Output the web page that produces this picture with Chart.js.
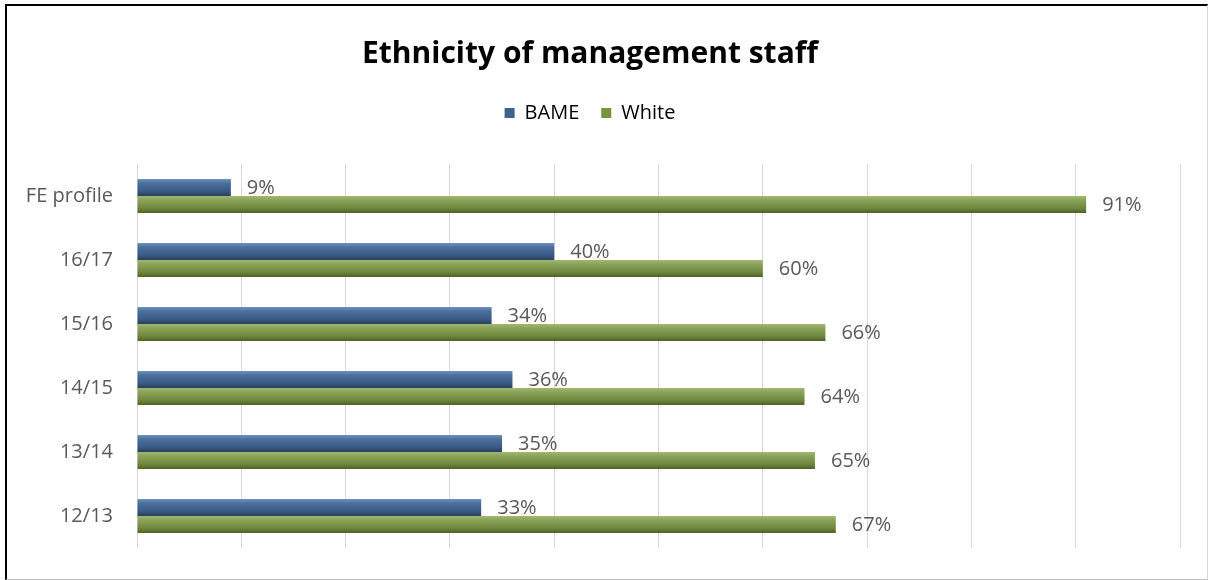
<!DOCTYPE html>
<html>
<head>
<meta charset="utf-8">
<script src="https://cdn.jsdelivr.net/npm/chart.js@4"></script>
<style>
    body { margin: 0; background: #fff; }
    #frame {
        position: absolute; left: 5px; top: 4px; width: 1200px; height: 573px;
        border-top: 2px solid #000; border-left: 2px solid #000;
        border-right: 1px solid #d9d9d9; border-bottom: 1px solid #bfbfbf;
    }
    #wrap { position: absolute; left: 0; top: 0; width: 1208px; height: 580px; }
</style>
</head>
<body>
<div id="frame"></div>
<div id="wrap"><canvas id="ethnicity-chart"></canvas></div>
<script>
const categories = ['FE profile', '16/17', '15/16', '14/15', '13/14', '12/13'];
const bameValues = [9, 40, 34, 36, 35, 33];
const whiteValues = [91, 60, 66, 64, 65, 67];
const seriesNames = ['BAME', 'White'];

const CAT_PCT = 0.53;
const FONT = "'Open Sans', sans-serif";

const stops = {
    0: [['#6f91bc', 0], ['#4b6e9b', 0.25], ['#3a5b87', 0.7], ['#28405f', 1]],
    1: [['#a0b873', 0], ['#89a257', 0.25], ['#6f8a3e', 0.7], ['#4d6228', 1]]
};
const solid = ['#3f6190', '#77933c'];

function barFill(ctx) {
    if (ctx.type !== 'data') return solid[ctx.datasetIndex];
    const chart = ctx.chart;
    const y = chart.scales.y;
    if (!chart.chartArea || !y) return solid[ctx.datasetIndex];
    const center = y.getPixelForValue(ctx.dataIndex);
    const band = Math.abs(y.getPixelForValue(1) - y.getPixelForValue(0));
    const half = band * CAT_PCT / 2;
    const top = ctx.datasetIndex === 0 ? center - half : center;
    const g = chart.ctx.createLinearGradient(0, top, 0, top + half);
    stops[ctx.datasetIndex].forEach(s => g.addColorStop(s[1], s[0]));
    return g;
}

// value labels at the end of each bar
const valueLabels = {
    id: 'valueLabels',
    afterDatasetsDraw(chart) {
        const c = chart.ctx;
        c.save();
        c.font = '20px ' + FONT;
        c.fillStyle = '#595959';
        c.textAlign = 'left';
        c.textBaseline = 'middle';
        chart.data.datasets.forEach((ds, i) => {
            chart.getDatasetMeta(i).data.forEach((bar, j) => {
                c.fillText(ds.data[j] + '%', bar.x + 16, bar.y + 1);
            });
        });
        c.restore();
    }
};

new Chart(document.getElementById('ethnicity-chart'), {
    type: 'bar',
    data: {
        labels: categories,
        datasets: [
            { label: seriesNames[0], data: bameValues, backgroundColor: barFill },
            { label: seriesNames[1], data: whiteValues, backgroundColor: barFill }
        ]
    },
    options: {
        indexAxis: 'y',
        responsive: true,
        maintainAspectRatio: false,
        animation: false,
        categoryPercentage: CAT_PCT,
        barPercentage: 1,
        layout: { padding: { left: 0, right: 28, top: 0, bottom: 32 } },
        plugins: {
            title: {
                display: true,
                text: 'Ethnicity of management staff',
                color: '#000',
                font: { family: FONT, size: 30, weight: 'bold' },
                padding: { top: 36, bottom: 9 }
            },
            legend: {
                labels: {
                    color: '#595959',
                    font: { family: FONT, size: 20 },
                    boxWidth: 10,
                    boxHeight: 10,
                    padding: 22,
                    generateLabels(chart) {
                        return chart.data.datasets.map((ds, i) => ({
                            text: ds.label,
                            fillStyle: solid[i],
                            strokeStyle: solid[i],
                            lineWidth: 0,
                            datasetIndex: i
                        }));
                    }
                }
            },
            tooltip: { enabled: false }
        },
        scales: {
            x: {
                position: 'top',
                min: 0,
                max: 100,
                ticks: { display: false, stepSize: 10 },
                grid: { color: '#d9d9d9', drawTicks: false },
                border: { display: false },
                afterFit(scale) { scale.height = 31; }
            },
            y: {
                grid: { display: false },
                border: { display: false },
                ticks: {
                    color: '#595959',
                    font: { family: FONT, size: 20 },
                    padding: 16
                },
                afterFit(scale) { scale.width = 137; }
            }
        }
    },
    plugins: [valueLabels]
});
</script>
</body>
</html>
